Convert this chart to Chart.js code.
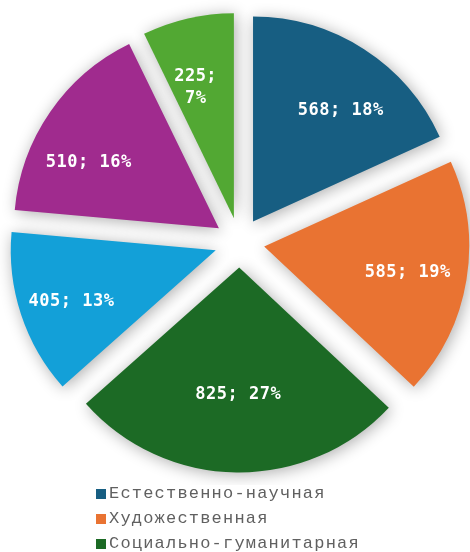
<!DOCTYPE html>
<html>
<head>
<meta charset="utf-8">
<script src="https://cdn.jsdelivr.net/npm/chart.js@4/dist/chart.umd.min.js"></script>
<style>
  html, body { margin: 0; padding: 0; background: #fff; overflow: hidden; }
  #wrap { position: relative; width: 470px; height: 485px; }
  #legend { position: absolute; left: 96px; top: 481px; margin: 0; padding: 0; list-style: none;
    font: 17px "Liberation Mono", "Courier New", monospace; letter-spacing: 1.2px; color: #606060; }
  #legend li { height: 25px; line-height: 25px; white-space: nowrap; }
  #legend i { display: inline-block; width: 10px; height: 10px; margin-right: 3px; vertical-align: -1px; }
</style>
</head>
<body>
<div id="wrap"><canvas id="pie"></canvas></div>
<ul id="legend"></ul>
<script>
// Направления (порядок по часовой стрелке от 12 часов)
const categories = [
  'Естественно-научная',
  'Художественная',
  'Социально-гуманитарная',
  'Техническая',
  'Физкультурно-спортивная',
  'Туристско-краеведческая',
];
const values = [568, 585, 825, 405, 510, 225];
const percents = [18, 19, 27, 13, 16, 7];
const colors = ['#175e82', '#e97332', '#1c6a25', '#13a0d8', '#a02b8e', '#52a833'];

const EXPLODE = 25; // px every slice is pulled out from the centre

// draw the slices ourselves: same radius for all, pulled out, with a soft shadow
const explodePlugin = {
  id: 'explodeShadow',
  beforeDatasetDraw(chart) {
    const ctx = chart.ctx;
    const meta = chart.getDatasetMeta(0);
    meta.data.forEach(arc => {
      const mid = (arc.startAngle + arc.endAngle) / 2;
      ctx.save();
      ctx.shadowColor = 'rgba(0,0,0,0.33)';
      ctx.shadowBlur = 16;
      ctx.shadowOffsetX = 2;
      ctx.shadowOffsetY = 2;
      ctx.translate(Math.cos(mid) * EXPLODE, Math.sin(mid) * EXPLODE);
      arc.draw(ctx, chart.chartArea);
      ctx.restore();
    });
    return false;
  },
};

// value; percent labels inside slices (best-fit nudges, px)
const labelNudge = [[10, 10], [2, 3], [1, -16], [-8, 6], [-12, 16], [-6, 9]];
const labelPlugin = {
  id: 'sliceLabels',
  afterDatasetsDraw(chart) {
    const ctx = chart.ctx;
    const meta = chart.getDatasetMeta(0);
    ctx.save();
    ctx.font = 'bold 17px "DejaVu Sans Mono", monospace';
    ctx.letterSpacing = '0.5px';
    ctx.fillStyle = '#fff';
    ctx.textAlign = 'center';
    ctx.textBaseline = 'middle';
    meta.data.forEach((arc, i) => {
      const mid = (arc.startAngle + arc.endAngle) / 2;
      const r = EXPLODE + arc.outerRadius * 0.7;
      const x = arc.x + Math.cos(mid) * r + labelNudge[i][0];
      const y = arc.y + Math.sin(mid) * r + labelNudge[i][1];
      if (percents[i] < 10) {
        ctx.fillText(values[i] + ';', x, y - 11);
        ctx.fillText(percents[i] + '%', x, y + 11);
      } else {
        ctx.fillText(values[i] + '; ' + percents[i] + '%', x, y);
      }
    });
    ctx.restore();
  },
};

new Chart(document.getElementById('pie'), {
  type: 'pie',
  data: {
    labels: categories,
    datasets: [{
      data: values,
      backgroundColor: colors,
      borderWidth: 0,
      offset: 0,
    }],
  },
  options: {
    responsive: true,
    maintainAspectRatio: false,
    animation: false,
    radius: 205,
    layout: { padding: { left: 9 } },
    events: [],
    plugins: { legend: { display: false }, tooltip: { enabled: false } },
  },
  plugins: [explodePlugin, labelPlugin],
});

// legend
const legendEl = document.getElementById('legend');
categories.forEach((c, i) => {
  const li = document.createElement('li');
  li.innerHTML = `<i style="background:${colors[i]}"></i>${c}`;
  legendEl.appendChild(li);
});
</script>
</body>
</html>
